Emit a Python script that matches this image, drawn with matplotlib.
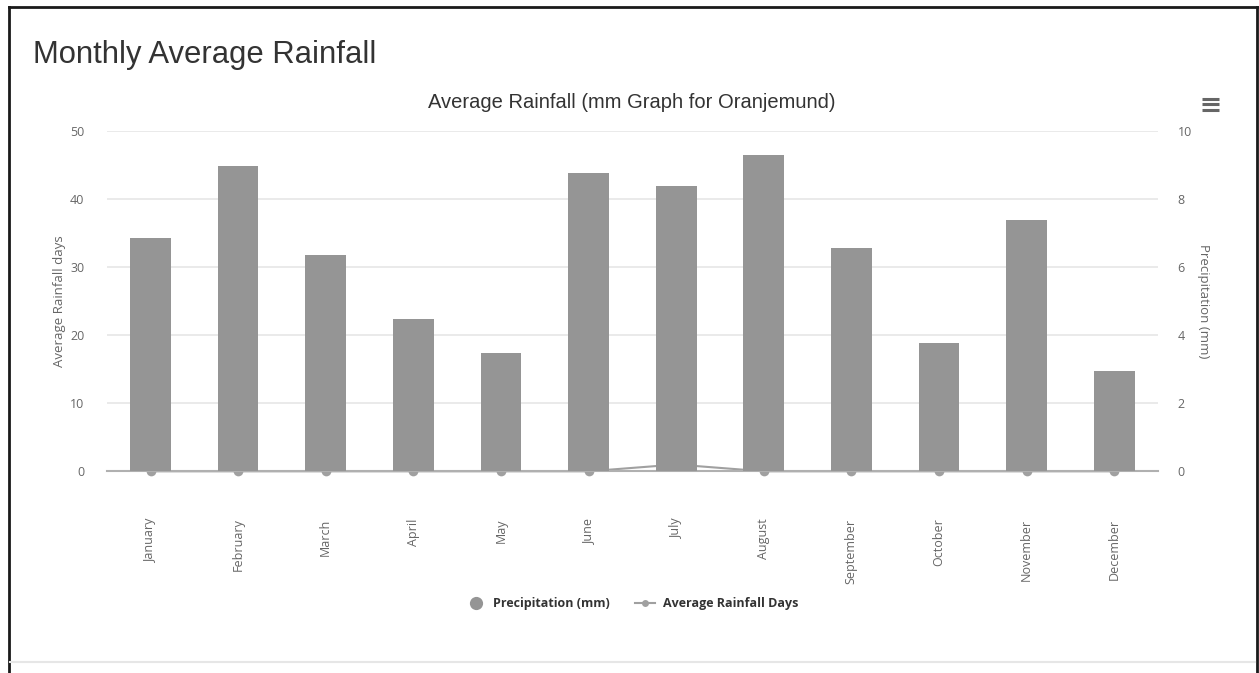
import matplotlib.pyplot as plt
from matplotlib.lines import Line2D

months = ['January', 'February', 'March', 'April', 'May', 'June', 'July',
          'August', 'September', 'October', 'November', 'December']
precipitation = [34.3, 44.9, 31.8, 22.4, 17.4, 43.8, 41.9, 46.5, 32.8, 18.9, 37.0, 14.8]
rainfall_days = [0, 0, 0, 0, 0, 0, 0.2, 0, 0, 0, 0, 0]

W, H = 1259, 673
fig = plt.figure(figsize=(W / 100, H / 100), dpi=100)
fig.patch.set_facecolor('white')

# page frame
fig.add_artist(Line2D([8.5 / W, 1256.5 / W], [1 - 7 / H, 1 - 7 / H], color='#1a1a1a', lw=2))
fig.add_artist(Line2D([8.5 / W, 8.5 / W], [0, 1 - 7 / H], color='#1a1a1a', lw=2))
fig.add_artist(Line2D([1256.5 / W, 1256.5 / W], [0, 1 - 7 / H], color='#1a1a1a', lw=2))
fig.add_artist(Line2D([10 / W, 1255 / W], [1 - 662 / H, 1 - 662 / H], color='#e6e6e6', lw=1.5))

fig.text(33 / W, 1 - 55 / H, 'Monthly Average Rainfall', fontsize=22.3, color='#333333',
         family='Liberation Sans', va='center', ha='left')

ax = fig.add_axes([106.7 / W, 1 - 471.3 / H, (1158 - 106.7) / W, (471.3 - 131.3) / H])
ax2 = ax.twinx()

x = list(range(len(months)))
ax.bar(x, precipitation, width=0.465, color='#959595', zorder=3)
ax.set_xlim(-0.5, 11.5)
ax.set_ylim(0, 50)
ax.set_yticks([0, 10, 20, 30, 40, 50])
ax.grid(axis='y', color='#e6e6e6', lw=1.2, zorder=0)
ax.set_axisbelow(True)
for s in ['top', 'left', 'right']:
    ax.spines[s].set_visible(False)
ax.spines['bottom'].set_color('#b0b0b0')
ax.spines['bottom'].set_linewidth(1.5)
ax.spines['bottom'].set_zorder(1)
ax.set_xticks(x)
ax.set_xticklabels(months, rotation=90, ha='center', va='top', family='Open Sans',
                   fontsize=9, color='#666666')
ax.tick_params(axis='x', length=0, pad=34)
ax.tick_params(axis='y', length=0, pad=16, labelsize=9, labelcolor='#666666')
for lab in ax.get_yticklabels():
    lab.set_family('Open Sans')
ax.set_ylabel('Average Rainfall days', family='Open Sans', fontsize=9.5, color='#666666',
              labelpad=3)

ax2.plot(x, rainfall_days, color='#a0a0a0', lw=1.5, marker='o', markersize=7,
         markerfacecolor='#a0a0a0', markeredgewidth=0, zorder=1, clip_on=False)
ax2.set_ylim(0, 10)
ax2.set_yticks([0, 2, 4, 6, 8, 10])
for s in ['top', 'left', 'right', 'bottom']:
    ax2.spines[s].set_visible(False)
ax2.tick_params(axis='y', length=0, pad=14, labelsize=9, labelcolor='#666666')
for lab in ax2.get_yticklabels():
    lab.set_family('Open Sans')
ax2.set_ylabel('Precipitation (mm)', family='Open Sans', fontsize=9.5, color='#666666',
               rotation=270, labelpad=13)
ax.set_zorder(ax2.get_zorder() + 1)
ax.patch.set_visible(False)

fig.text(632 / W, 1 - 103 / H, 'Average Rainfall (mm Graph for Oranjemund)', fontsize=14.5,
         color='#333333', family='Liberation Sans', ha='center', va='center')

# menu icon
for yy in [98.5, 104, 109.5]:
    fig.add_artist(Line2D([1202 / W, 1219 / W], [1 - yy / H, 1 - yy / H], color='#666666',
                          lw=2.2, solid_capstyle='butt'))

handles = [
    Line2D([], [], lw=0, marker='o', markersize=9.5, color='#959595', markeredgewidth=0),
    Line2D([], [], color='#a0a0a0', lw=1.5, marker='o', markersize=5, markeredgewidth=0),
]
fig.legend(handles, ['Precipitation (mm)', 'Average Rainfall Days'], loc='center',
           bbox_to_anchor=(632 / W, 1 - 604 / H), ncol=2, frameon=False,
           prop={'family': 'Open Sans', 'weight': 'bold', 'size': 9.0},
           labelcolor='#333333', handlelength=1.6, columnspacing=2.0, handletextpad=0.6)

fig.savefig('out.png', dpi=100)
